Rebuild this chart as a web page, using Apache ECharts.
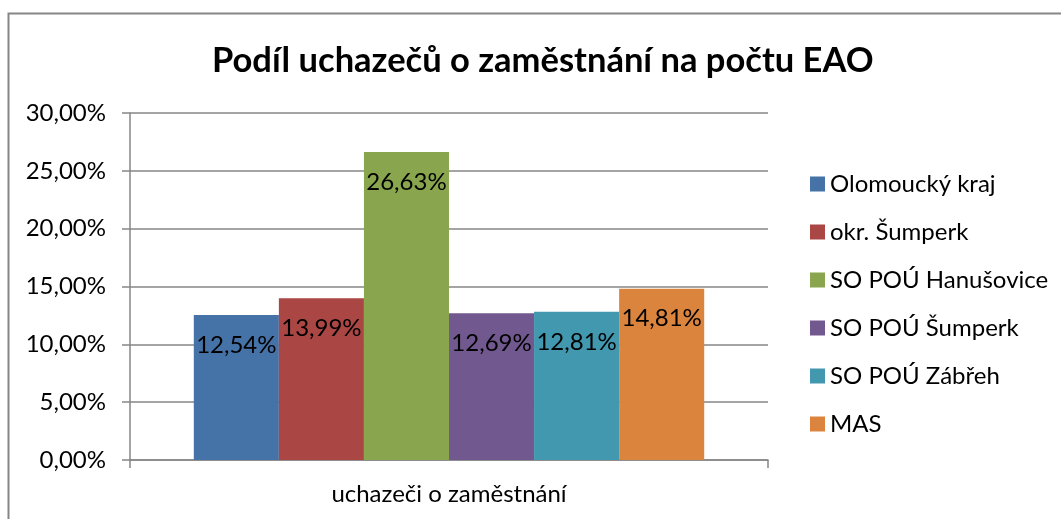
<!DOCTYPE html>
<html>
<head>
<meta charset="utf-8">
<script src="https://cdn.jsdelivr.net/npm/echarts@6/dist/echarts.min.js"></script>
<style>
  html, body { margin: 0; padding: 0; background: #fff; }
  #chart { width: 1061px; height: 519px; }
</style>
</head>
<body>
<div id="chart"></div>
<script>
// data
const categories = ['uchazeči o zaměstnání'];
const seriesNames = ['Olomoucký kraj', 'okr. Šumperk', 'SO POÚ Hanušovice', 'SO POÚ Šumperk', 'SO POÚ Zábřeh', 'MAS'];
const seriesValues = [12.54, 13.99, 26.63, 12.69, 12.81, 14.81];
const seriesColors = ['#4572A7', '#AA4643', '#89A54E', '#71588F', '#4198AF', '#DB843D'];

const FONT = 'Lato';
const GRAY = '#868686';

function fmt(v) {
    return v.toFixed(2).replace('.', ',') + '%';
}

const chart = echarts.init(document.getElementById('chart'));

const series = seriesNames.map(function (name, i) {
    return {
        name: name,
        type: 'bar',
        data: [seriesValues[i]],
        barGap: '0%',
        barCategoryGap: '20%',
        itemStyle: { color: seriesColors[i] },
        label: {
            show: true,
            position: 'insideTop',
            distance: 18,
            color: '#000',
            fontFamily: FONT,
            fontSize: 24,
            formatter: function (p) { return fmt(p.value); }
        }
    };
});

chart.setOption({
    animation: false,
    backgroundColor: '#fff',
    graphic: [{
        type: 'rect',
        shape: { x: 8.5, y: 13.5, width: 1200, height: 700 },
        style: { fill: 'none', stroke: GRAY, lineWidth: 2 },
        silent: true
    }],
    title: {
        text: 'Podíl uchazečů o zaměstnání na počtu EAO',
        left: 207,
        top: 38,
        textStyle: { fontFamily: FONT, fontWeight: 'bold', fontSize: 34.5, color: '#000' }
    },
    legend: {
        orient: 'vertical',
        left: 805,
        top: 167,
        itemWidth: 15,
        itemHeight: 15,
        itemGap: 24,
        icon: 'rect',
        data: seriesNames,
        textStyle: { fontFamily: FONT, fontSize: 24, color: '#000' }
    },
    grid: { left: 130, right: 293, top: 113, bottom: 59 },
    xAxis: {
        type: 'category',
        data: categories,
        axisLine: { lineStyle: { color: GRAY, width: 1.5 } },
        axisTick: { show: true, length: 8, alignWithLabel: false, lineStyle: { color: GRAY, width: 1.5 } },
        axisLabel: { fontFamily: FONT, fontSize: 24, color: '#000', margin: 22 }
    },
    yAxis: {
        type: 'value',
        min: 0,
        max: 30,
        interval: 5,
        axisLine: { show: true, lineStyle: { color: GRAY, width: 1.5 } },
        axisTick: { show: true, length: 8, lineStyle: { color: GRAY, width: 1.5 } },
        splitLine: { lineStyle: { color: GRAY, width: 1.5 } },
        axisLabel: {
            fontFamily: FONT, fontSize: 24, color: '#000', margin: 24,
            formatter: function (v) { return fmt(v); }
        }
    },
    series: series
});
</script>
</body>
</html>
